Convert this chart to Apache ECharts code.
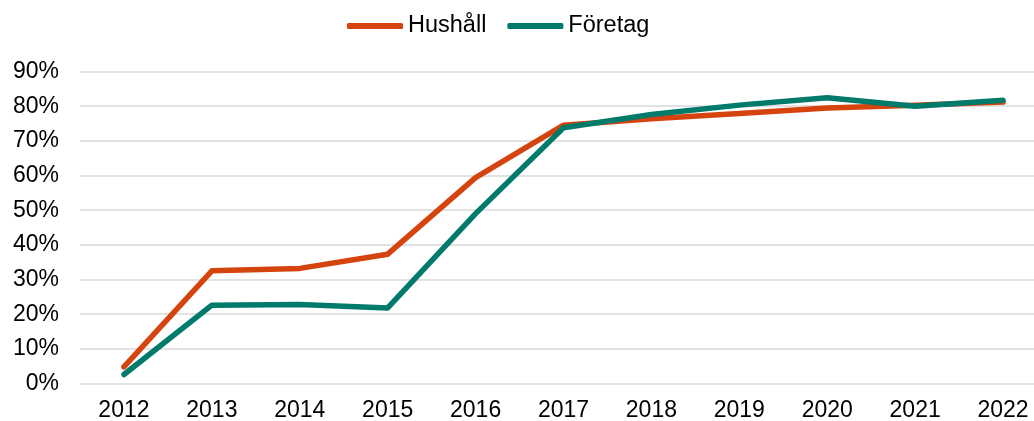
<!DOCTYPE html>
<html>
<head>
<meta charset="utf-8">
<script src="https://cdn.jsdelivr.net/npm/echarts@6/dist/echarts.min.js"></script>
<style>
  html, body { margin: 0; padding: 0; background: #fff; }
  #chart { width: 1034px; height: 421px; }
</style>
</head>
<body>
<div id="chart"></div>
<script>
// Andel (%) per år
const years = ['2012', '2013', '2014', '2015', '2016', '2017', '2018', '2019', '2020', '2021', '2022'];
const hushall = [4.8, 32.5, 33.2, 37.3, 59.4, 74.5, 76.4, 77.9, 79.5, 80.3, 81.2];
const foretag = [2.6, 22.6, 22.8, 21.8, 49.0, 73.8, 77.6, 80.3, 82.4, 80.0, 81.7];
const seriesNames = ['Hushåll', 'Företag'];
const colors = ['#d5430e', '#007b6b'];

const FONT = '"Liberation Sans", Arial, sans-serif';

const chart = echarts.init(document.getElementById('chart'), null, { renderer: 'canvas' });

chart.setOption({
  animation: false,
  color: colors,
  textStyle: { fontFamily: FONT },
  legend: {
    top: 9,
    left: 342,
    icon: 'roundRect',
    itemWidth: 56,
    itemHeight: 6,
    itemGap: 21,
    textStyle: { fontFamily: FONT, fontSize: 23.5, color: '#000' },
    data: seriesNames
  },
  // the plot area runs a little past the right edge of the canvas
  grid: {
    left: 80, width: 967, top: 71.5, height: 312,
    containLabel: false,
    outerBoundsMode: 'none'
  },
  xAxis: {
    type: 'category',
    data: years,
    boundaryGap: true,
    axisLine: { show: false },
    axisTick: { show: false },
    axisLabel: { fontFamily: FONT, fontSize: 23, color: '#000', margin: 16 }
  },
  yAxis: {
    type: 'value',
    min: 0,
    max: 90,
    interval: 10,
    axisLine: { show: false },
    axisTick: { show: false },
    axisLabel: { fontFamily: FONT, fontSize: 23, color: '#000', margin: 21, formatter: '{value}%' },
    splitLine: { lineStyle: { color: '#d9d9d9', width: 1.5 } }
  },
  series: [
    {
      name: seriesNames[0],
      type: 'line',
      data: hushall,
      symbol: 'none',
      lineStyle: { width: 5.5, color: colors[0], cap: 'round', join: 'round' }
    },
    {
      name: seriesNames[1],
      type: 'line',
      data: foretag,
      symbol: 'none',
      lineStyle: { width: 5.5, color: colors[1], cap: 'round', join: 'round' }
    }
  ]
});
</script>
</body>
</html>
